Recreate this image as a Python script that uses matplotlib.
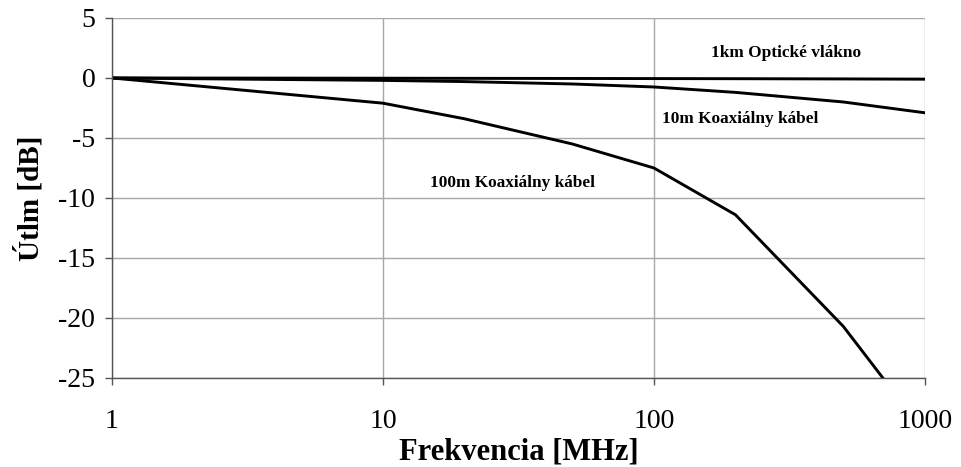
import numpy as np
import matplotlib
matplotlib.use("Agg")
import matplotlib.pyplot as plt

# frekvencia [MHz]
f = [1, 10, 20, 50, 100, 200, 500, 1000]
f100 = [1, 10, 20, 50, 100, 200, 500, 700]

opt_1km = [0, -0.02, -0.03, -0.04, -0.05, -0.06, -0.08, -0.1]
koax_10m = [0, -0.2, -0.3, -0.5, -0.75, -1.2, -2.0, -2.9]
koax_100m = [0, -2.1, -3.4, -5.5, -7.5, -11.4, -20.7, -25]

plt.rcParams['font.family'] = ['Liberation Serif', 'DejaVu Serif']
plt.rcParams['axes.unicode_minus'] = False

fig = plt.figure(figsize=(9.62, 4.67), dpi=100)
ax = fig.add_axes([0.1164, 0.1906, 0.845, 0.7709])

ax.plot(f, opt_1km, color="black", lw=2.1)
ax.plot(f, koax_10m, color="black", lw=2.1)
ax.plot(f100, koax_100m, color="black", lw=2.1)

ax.set_xscale("log")
ax.set_xlim(1, 1000)
ax.set_ylim(-25, 5)
ax.set_xticks([1, 10, 100, 1000])
ax.set_xticklabels(["1", "10", "100", "1000"])
ax.minorticks_off()
ax.set_yticks(np.arange(-25, 6, 5))

ax.grid(True, color="#a8a8a8", lw=1.0)
ax.set_axisbelow(True)
for s in ["top", "right"]:
    ax.spines[s].set_visible(False)
for s in ["left", "bottom"]:
    ax.spines[s].set_color("#555555")
    ax.spines[s].set_linewidth(1.0)

ax.tick_params(axis="y", labelsize=20, length=5, width=1, color="#555555", pad=7)
ax.tick_params(axis="x", labelsize=20, length=5, width=1, color="#555555", pad=17)

ax.set_xlabel("Frekvencia [MHz]", fontsize=22, fontweight="bold", labelpad=3)
ax.set_ylabel("Útlm [dB]", fontsize=21, fontweight="bold", labelpad=10)

ax.text(307, 2.1, "1km Optické vlákno", fontsize=12.4, fontweight="bold",
        ha="center", va="center")
ax.text(107, -3.4, "10m Koaxiálny kábel", fontsize=12.4, fontweight="bold",
        ha="left", va="center")
ax.text(14.9, -8.75, "100m Koaxiálny kábel", fontsize=12.4, fontweight="bold",
        ha="left", va="center")

fig.savefig("out.png", dpi=100)
